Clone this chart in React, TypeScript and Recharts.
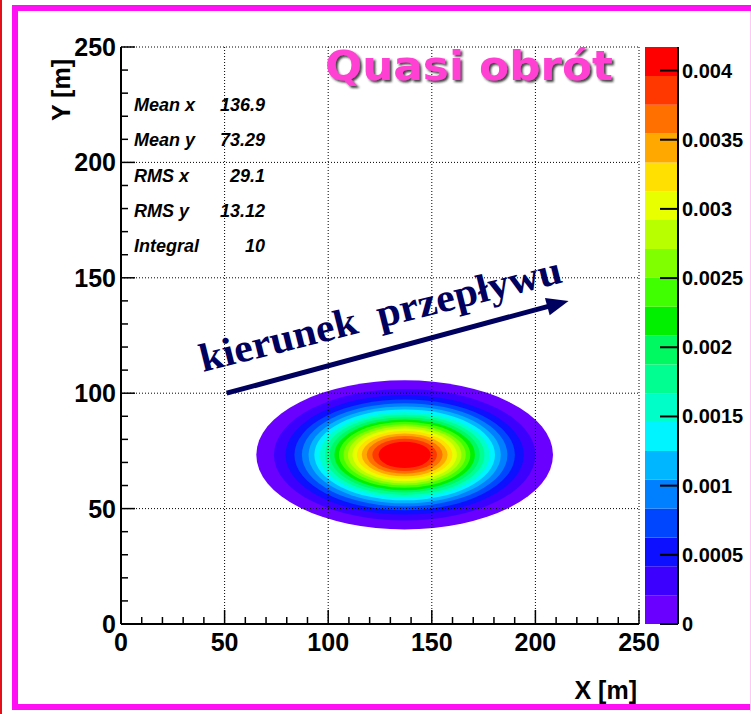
import React from "react";
import { ComposedChart, XAxis, YAxis, ReferenceArea, ReferenceLine } from "recharts";

// Statistics box values
const statLabels = ["Mean x", "Mean y", "RMS x", "RMS y", "Integral"];
const statValues = [136.9, 73.29, 29.1, 13.12, 10];

// Centre of the distribution (m)
const centreX = 136.9;
const centreY = 73.29;

// Semi-axes (m) of each colour contour, outermost band first
const bandRx = [71.6, 63.1, 57.5, 53.2, 49.6, 46.4, 43.6, 41.0, 38.5, 36.2, 33.9, 31.7, 29.5, 27.4, 25.2, 23.0, 20.7, 18.3, 15.6, 12.6];
const bandRy = [32.3, 28.5, 25.9, 24.0, 22.4, 21.0, 19.7, 18.5, 17.4, 16.3, 15.3, 14.3, 13.3, 12.4, 11.4, 10.4, 9.3, 8.2, 7.0, 5.7];

// Colour scale contour levels and its labelled ticks
const zLevels = [
  0, 0.000208, 0.000417, 0.000625, 0.000834, 0.001042, 0.00125, 0.001459, 0.001668, 0.001876, 0.002085,
  0.002293, 0.002502, 0.00271, 0.002919, 0.003127, 0.003336, 0.003544, 0.003753, 0.003961, 0.00417,
];
const zTicks = [0, 0.0005, 0.001, 0.0015, 0.002, 0.0025, 0.003, 0.0035, 0.004];

// Axis ticks (minor every 10 m, labelled every 50 m)
const axisTicks = [0, 10, 20, 30, 40, 50, 60, 70, 80, 90, 100, 110, 120, 130, 140, 150, 160, 170, 180, 190, 200, 210, 220, 230, 240, 250];
const gridValues = [50, 100, 150, 200, 250];

// Flow direction arrow (m)
const flowFrom = { x: 51, y: 100 };
const flowTo = { x: 216, y: 140 };

const palette = [
  "#6a00ff", "#3c00ff", "#0c10ff", "#0046ff", "#0080ff", "#00b6ff", "#00f4ff", "#00ffc8", "#00ff90", "#00f860",
  "#00f000", "#40ff00", "#80ff00", "#b8ff00", "#e8ff00", "#ffe000", "#ffa800", "#ff7000", "#ff3800", "#ff0000",
];

const sans = "'Liberation Sans', Arial, Helvetica, sans-serif";
const navy = "#00005e";

const bands = bandRx.map((rx, i) => ({ x: centreX, y: centreY, rx, ry: bandRy[i], color: palette[i] }));

const XTick = (props: any) => {
  const { x, y, payload } = props;
  const major = payload.value % 50 === 0;
  return (
    <g>
      <line x1={x} y1={y} x2={x} y2={y - (major ? 14 : 7)} stroke="#000" strokeWidth={1.5} />
      {major && (
        <text x={x} y={y + 27} textAnchor="middle" fontFamily={sans} fontWeight="bold" fontSize={25} fill="#000">
          {payload.value}
        </text>
      )}
    </g>
  );
};

const YTick = (props: any) => {
  const { x, y, payload } = props;
  const major = payload.value % 50 === 0;
  return (
    <g>
      <line x1={x} y1={y} x2={x + (major ? 14 : 7)} y2={y} stroke="#000" strokeWidth={1.5} />
      {major && (
        <text x={x - 5} y={y + 9} textAnchor="end" fontFamily={sans} fontWeight="bold" fontSize={25} fill="#000">
          {payload.value}
        </text>
      )}
    </g>
  );
};

const ZTick = (props: any) => {
  const { x, y, payload } = props;
  return (
    <g>
      <line x1={x - 18} y1={y} x2={x} y2={y} stroke="#000" strokeWidth={2} />
      <text x={x + 4} y={y + 7} textAnchor="start" fontFamily={sans} fontWeight="bold" fontSize={20} fill="#000">
        {payload.value}
      </text>
    </g>
  );
};

const ellipseShape = (fill: string) => (p: any) => (
  <ellipse cx={p.x + p.width / 2} cy={p.y + p.height / 2} rx={p.width / 2} ry={p.height / 2} fill={fill} />
);

const arrowShape = (p: any) => {
  const { x1, y1, x2, y2 } = p;
  const a = Math.atan2(y2 - y1, x2 - x1);
  const len = 22;
  const half = 9;
  const bx = x2 - len * Math.cos(a);
  const by = y2 - len * Math.sin(a);
  const pts = `${x2},${y2} ${bx + half * Math.sin(a)},${by - half * Math.cos(a)} ${bx - half * Math.sin(a)},${by + half * Math.cos(a)}`;
  return (
    <g>
      <line x1={x1} y1={y1} x2={bx + 2 * Math.cos(a)} y2={by + 2 * Math.sin(a)} stroke={navy} strokeWidth={5} />
      <polygon points={pts} fill={navy} />
    </g>
  );
};

function DensityMap() {
  return (
    <ComposedChart
      width={751}
      height={714}
      data={bands}
      margin={{ top: 47, right: 112, bottom: 60, left: 61 }}
      style={{ position: "absolute", left: 0, top: 0 }}
    >
      <XAxis
        dataKey="x"
        type="number"
        domain={[0, 250]}
        ticks={axisTicks}
        interval={0}
        allowDataOverflow
        height={30}
        tickSize={0}
        tickMargin={0}
        tickLine={false}
        tick={XTick}
        axisLine={{ stroke: "#000", strokeWidth: 2 }}
      />
      <YAxis
        dataKey="y"
        type="number"
        domain={[0, 250]}
        ticks={axisTicks}
        interval={0}
        allowDataOverflow
        width={60}
        tickSize={0}
        tickMargin={0}
        tickLine={false}
        tick={YTick}
        axisLine={{ stroke: "#000", strokeWidth: 2 }}
      />
      {bands.map((b, i) => (
        <ReferenceArea
          key={`band-${i}`}
          x1={b.x - b.rx}
          x2={b.x + b.rx}
          y1={b.y - b.ry}
          y2={b.y + b.ry}
          shape={ellipseShape(b.color)}
        />
      ))}
      {gridValues.map((v) => (
        <ReferenceLine key={`gx-${v}`} x={v} stroke="#000" strokeWidth={1} strokeDasharray="1 2" />
      ))}
      {gridValues.map((v) => (
        <ReferenceLine key={`gy-${v}`} y={v} stroke="#000" strokeWidth={1} strokeDasharray="1 2" />
      ))}
      <ReferenceLine segment={[flowFrom, flowTo]} shape={arrowShape} />
    </ComposedChart>
  );
}

function ColourScale() {
  const rows = zLevels.slice(1).map((hi, i) => ({ pos: 0.5, lo: zLevels[i], hi }));
  return (
    <ComposedChart
      width={751}
      height={714}
      data={rows}
      margin={{ top: 47, right: 3, bottom: 90, left: 645 }}
      style={{ position: "absolute", left: 0, top: 0 }}
    >
      <XAxis dataKey="pos" type="number" domain={[0, 1]} hide allowDataOverflow />
      <YAxis
        dataKey="hi"
        orientation="right"
        type="number"
        domain={[0, zLevels[zLevels.length - 1]]}
        ticks={zTicks}
        interval={0}
        allowDataOverflow
        width={70}
        tickSize={0}
        tickMargin={0}
        tickLine={false}
        tick={ZTick}
        axisLine={{ stroke: "#000", strokeWidth: 2 }}
      />
      {rows.map((r, i) => (
        <ReferenceArea key={`z-${i}`} x1={0} x2={1} y1={r.lo} y2={r.hi} fill={palette[i]} fillOpacity={1} stroke="none" />
      ))}
    </ComposedChart>
  );
}

export default function App() {
  return (
    <div
      style={{
        position: "absolute",
        left: 0,
        top: 0,
        width: 751,
        height: 714,
        overflow: "hidden",
        background: "#fff",
      }}
    >
      <div style={{ position: "absolute", left: 0, top: 0, width: 2, height: 714, background: "#e3101a" }} />
      <div
        style={{
          position: "absolute",
          left: 12,
          top: 5,
          width: 760,
          height: 705,
          border: "6px solid #ff10f4",
          borderRight: "none",
          boxSizing: "border-box",
        }}
      />
      <div style={{ position: "absolute", left: 750, top: 11, width: 1, height: 700, background: "#ffc8f8" }} />

      <DensityMap />
      <ColourScale />

      <svg width={751} height={714} style={{ position: "absolute", left: 0, top: 0 }}>
        <defs>
          <filter id="titleShadow" x="-10%" y="-20%" width="130%" height="160%">
            <feDropShadow dx={2} dy={2} stdDeviation={0.8} floodColor="#222" floodOpacity={0.85} />
          </filter>
        </defs>

        {statLabels.map((label, i) => (
          <g key={label} fontFamily={sans} fontWeight="bold" fontStyle="italic" fontSize={18} fill="#000">
            <text x={134} y={111 + i * 35.3}>
              {label}
            </text>
            <text x={265} y={111 + i * 35.3} textAnchor="end">
              {statValues[i]}
            </text>
          </g>
        ))}

        <text
          x={325}
          y={80}
          fontFamily="'DejaVu Sans', sans-serif"
          fontWeight="bold"
          fontSize={41}
          fill="#ff40d2"
          textLength={288}
          lengthAdjust="spacingAndGlyphs"
          filter="url(#titleShadow)"
        >
          Quasi obrót
        </text>

        <text
          transform="translate(203,372) rotate(-14)"
          fontFamily="'Liberation Serif', 'Times New Roman', serif"
          fontWeight="bold"
          fontSize={40}
          fill={navy}
          textLength={372}
          lengthAdjust="spacingAndGlyphs"
          xmlSpace="preserve"
        >
          kierunek  przepływu
        </text>

        <text x={637} y={699} textAnchor="end" fontFamily={sans} fontWeight="bold" fontSize={25} fill="#000">
          X [m]
        </text>
        <text
          transform="translate(70,59) rotate(-90)"
          textAnchor="end"
          fontFamily={sans}
          fontWeight="bold"
          fontSize={25}
          fill="#000"
        >
          Y [m]
        </text>
      </svg>
    </div>
  );
}
